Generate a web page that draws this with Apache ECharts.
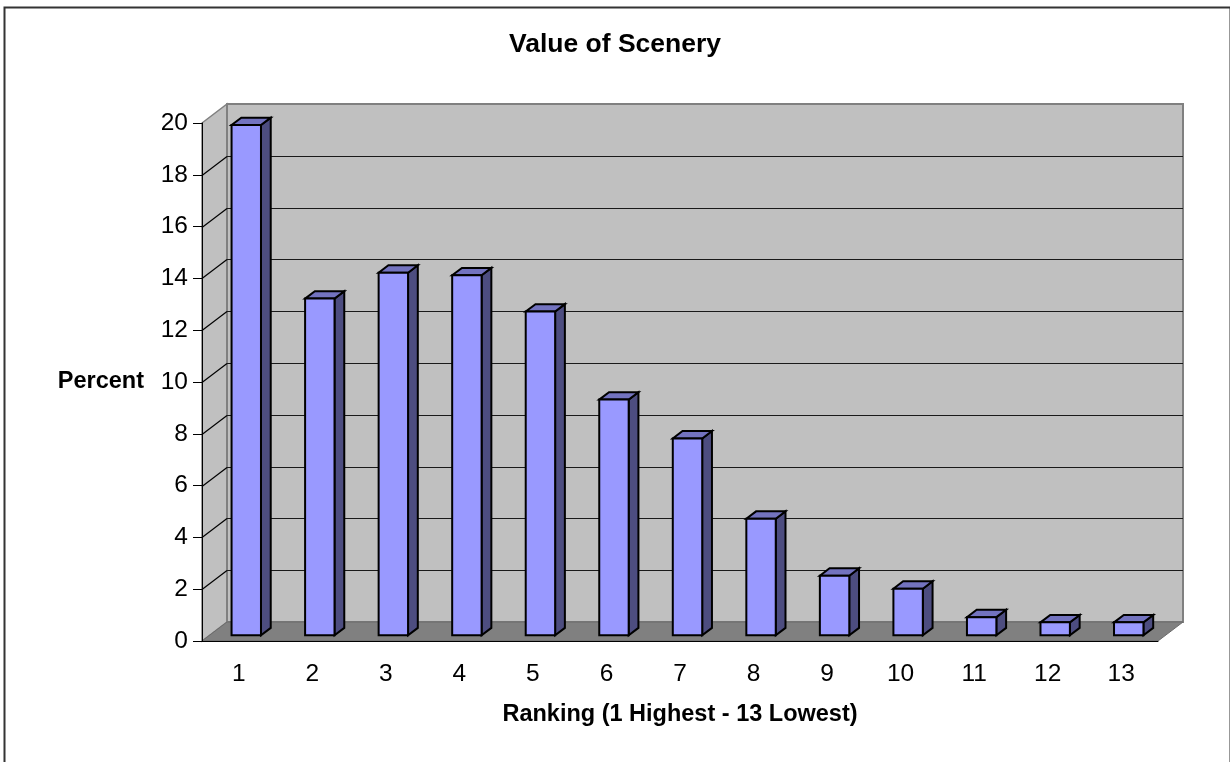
<!DOCTYPE html>
<html>
<head>
<meta charset="utf-8">
<script src="https://cdn.jsdelivr.net/npm/echarts@6/dist/echarts.min.js"></script>
<style>
  html, body { margin: 0; padding: 0; background: #fff; }
  #chart { width: 1230px; height: 762px; }
</style>
</head>
<body>
<div id="chart"></div>
<script>
// data
var rankings = ['1', '2', '3', '4', '5', '6', '7', '8', '9', '10', '11', '12', '13'];
var percents = [19.7, 13.0, 14.0, 13.9, 12.5, 9.1, 7.6, 4.5, 2.3, 1.8, 0.7, 0.5, 0.5];
var yTicks = [0, 2, 4, 6, 8, 10, 12, 14, 16, 18, 20];

// 3D look: depth of the box and where the bars sit inside it
var DX = 25, DY = -19;
var F1 = 0.3, F2 = 0.69;

var fontName = 'Liberation Sans';

function renderWalls(params, api) {
    var cs = params.coordSys;
    var x0 = cs.x, y0 = cs.y, w = cs.width, h = cs.height;
    return {
        type: 'group',
        children: [
            { // side wall
                type: 'polygon',
                shape: { points: [[x0, y0], [x0 + DX, y0 + DY], [x0 + DX, y0 + h + DY], [x0, y0 + h]] },
                style: { fill: '#c0c0c0', stroke: '#808080', lineWidth: 1.5 }
            },
            { // back wall
                type: 'rect',
                shape: { x: x0 + DX, y: y0 + DY, width: w, height: h },
                style: { fill: '#c0c0c0', stroke: '#808080', lineWidth: 2 }
            },
            { // floor
                type: 'polygon',
                shape: { points: [[x0, y0 + h], [x0 + DX, y0 + h + DY], [x0 + w + DX, y0 + h + DY], [x0 + w, y0 + h]] },
                style: { fill: '#808080', stroke: '#6a6a6a', lineWidth: 1 }
            }
        ]
    };
}

function renderGrid(params, api) {
    var cs = params.coordSys;
    var y = Math.round(api.coord([0, api.value(1)])[1]) + 0.5;
    var x0 = cs.x, x1 = cs.x + cs.width;
    return {
        type: 'group',
        children: [
            { type: 'line', shape: { x1: x0, y1: y, x2: x0 + DX, y2: y + DY }, style: { stroke: '#000', lineWidth: 1.2 } },
            { type: 'line', shape: { x1: x0 + DX, y1: y + DY, x2: x1 + DX, y2: y + DY }, style: { stroke: '#1a1a1a', lineWidth: 1 } }
        ]
    };
}

function renderBar(params, api) {
    var i = api.value(0), v = api.value(1);
    var top = api.coord([i, v]);
    var base = api.coord([i, 0]);
    var bw = api.size([1, 0])[0] * 0.4;
    var fx = F1 * DX, fy = F1 * DY;
    var dx = (F2 - F1) * DX, dy = (F2 - F1) * DY;
    var l = top[0] - bw / 2 + fx, r = top[0] + bw / 2 + fx;
    var t = top[1] + fy, b = base[1] + fy;
    var edge = { stroke: '#000', lineWidth: 2, lineJoin: 'miter' };
    return {
        type: 'group',
        children: [
            { type: 'polygon', shape: { points: [[r, t], [r, b], [r + dx, b + dy], [r + dx, t + dy]] },
              style: Object.assign({ fill: '#4d4d80' }, edge) },
            { type: 'polygon', shape: { points: [[l, t], [r, t], [r + dx, t + dy], [l + dx, t + dy]] },
              style: Object.assign({ fill: '#7373bf' }, edge) },
            { type: 'rect', shape: { x: l, y: t, width: r - l, height: b - t },
              style: Object.assign({ fill: '#9999ff' }, edge) }
        ]
    };
}

var chartOption = {
    animation: false,
    textStyle: { fontFamily: fontName, color: '#000' },
    title: {
        text: 'Value of Scenery',
        left: 'center',
        top: 31,
        padding: 0,
        textStyle: { fontFamily: fontName, fontSize: 26.5, fontWeight: 'bold', color: '#000' }
    },
    graphic: [{
        type: 'rect',
        left: 2, top: 5,
        shape: { width: 1226, height: 770 },
        style: { fill: 'none', stroke: '#333', lineWidth: 2 }
    }],
    grid: {
        left: 202,
        right: 72,
        top: 123,
        bottom: 121,
        containLabel: false
    },
    xAxis: {
        type: 'category',
        data: rankings,
        z: 10,
        name: 'Ranking (1 Highest - 13 Lowest)',
        nameLocation: 'middle',
        nameGap: 62,
        nameTextStyle: { fontFamily: fontName, fontSize: 23.5, fontWeight: 'bold', color: '#000' },
        axisLine: { lineStyle: { color: '#000', width: 1 } },
        axisTick: { length: 9, lineStyle: { color: '#000' } },
        axisLabel: { fontFamily: fontName, fontSize: 24.5, color: '#000', margin: 21 },
        splitLine: { show: false }
    },
    yAxis: {
        type: 'value',
        min: 0,
        max: 20,
        interval: 2,
        z: 10,
        name: 'Percent',
        nameLocation: 'middle',
        nameRotate: 0,
        nameGap: 58,
        nameTextStyle: { fontFamily: fontName, fontSize: 23.5, fontWeight: 'bold', color: '#000' },
        axisLine: { show: true, lineStyle: { color: '#000', width: 1 } },
        axisTick: { show: true, length: 9, lineStyle: { color: '#000' } },
        axisLabel: { fontFamily: fontName, fontSize: 24.5, color: '#000', margin: 14 },
        splitLine: { show: false }
    },
    series: [
        {
            type: 'custom',
            z: 1,
            renderItem: renderWalls,
            data: [[0, 0]],
            silent: true
        },
        {
            type: 'custom',
            z: 2,
            renderItem: renderGrid,
            data: yTicks.slice(1, -1).map(function (v) { return [0, v]; }),
            silent: true
        },
        {
            type: 'custom',
            z: 3,
            renderItem: renderBar,
            encode: { x: 0, y: 1 },
            data: percents.map(function (v, i) { return [i, v]; })
        }
    ]
};

var sceneryChart = echarts.init(document.getElementById('chart'));
sceneryChart.setOption(chartOption);
</script>
</body>
</html>
